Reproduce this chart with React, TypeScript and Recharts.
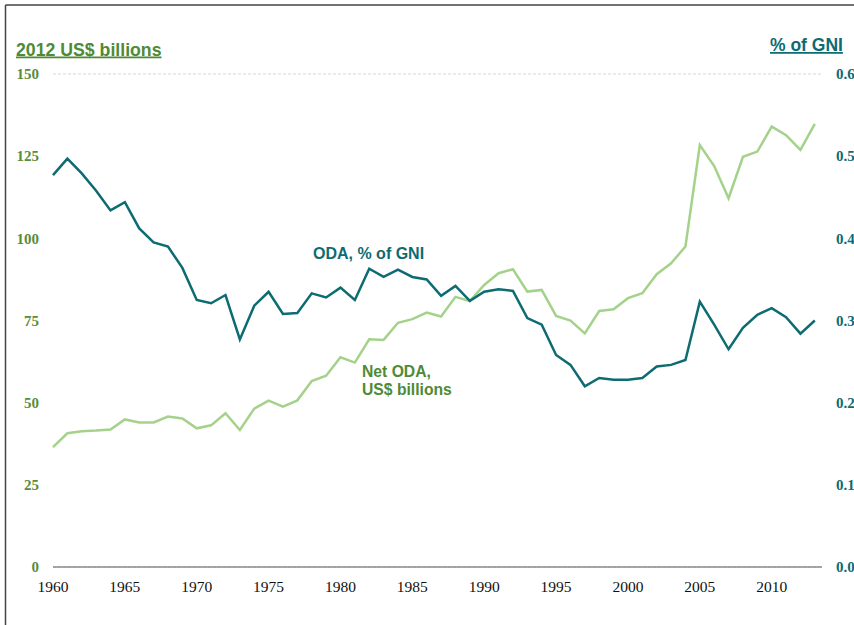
import React from "react";
import { LineChart, Line, XAxis, YAxis, CartesianGrid } from "recharts";

const years: number[] = [
  1960, 1961, 1962, 1963, 1964, 1965, 1966, 1967, 1968, 1969,
  1970, 1971, 1972, 1973, 1974, 1975, 1976, 1977, 1978, 1979,
  1980, 1981, 1982, 1983, 1984, 1985, 1986, 1987, 1988, 1989,
  1990, 1991, 1992, 1993, 1994, 1995, 1996, 1997, 1998, 1999,
  2000, 2001, 2002, 2003, 2004, 2005, 2006, 2007, 2008, 2009,
  2010, 2011, 2012, 2013,
];

const netOdaBillions: number[] = [
  36.5, 40.7, 41.3, 41.5, 41.8, 44.9, 44.0, 44.0, 45.8, 45.2,
  42.2, 43.1, 46.8, 41.7, 48.2, 50.6, 48.8, 50.7, 56.6, 58.2,
  63.8, 62.2, 69.3, 69.1, 74.3, 75.4, 77.4, 76.2, 82.2, 80.9,
  85.8, 89.4, 90.6, 83.8, 84.3, 76.4, 75.0, 71.1, 77.9, 78.4,
  81.8, 83.3, 89.1, 92.4, 97.5, 128.4, 122.0, 112.2, 124.8, 126.4,
  134.0, 131.4, 126.9, 134.8,
];

const odaPctGni: number[] = [
  0.477, 0.497, 0.479, 0.458, 0.434, 0.444, 0.412, 0.395, 0.39, 0.364,
  0.325, 0.321, 0.331, 0.277, 0.318, 0.335, 0.308, 0.309, 0.333, 0.328,
  0.34, 0.325, 0.363, 0.353, 0.362, 0.353, 0.35, 0.33, 0.342, 0.324,
  0.335, 0.338, 0.336, 0.303, 0.295, 0.258, 0.246, 0.22, 0.23, 0.228,
  0.228, 0.23, 0.244, 0.246, 0.252, 0.323, 0.295, 0.265, 0.291, 0.307,
  0.315, 0.304, 0.284, 0.3,
];

const xTicks: number[] = [1960, 1965, 1970, 1975, 1980, 1985, 1990, 1995, 2000, 2005, 2010];
const leftTicks: number[] = [0, 25, 50, 75, 100, 125, 150];
const rightTicks: number[] = [0, 0.1, 0.2, 0.3, 0.4, 0.5, 0.6];

const leftTitle = "2012 US$ billions";
const rightTitle = "% of GNI";
const odaLabel = "ODA, % of GNI";
const netLabel1 = "Net ODA,";
const netLabel2 = "US$ billions";

const TEAL = "#0d6b72";
const LIGHT_GREEN = "#a5d28b";
const DARK_GREEN = "#4f8a35";
const SANS = "'Liberation Sans', Arial, sans-serif";
const SERIF = "'Liberation Serif', 'Times New Roman', serif";

const data = years.map((y, i) => ({
  year: y,
  net: netOdaBillions[i],
  pct: odaPctGni[i],
}));

export default function App() {
  return (
    <div style={{ position: "absolute", left: 0, top: 0, width: 854, height: 625, background: "#fff" }}>
      <LineChart
        width={854}
        height={625}
        data={data}
        margin={{ top: 74, right: 0, bottom: 0, left: 0 }}
      >
        <CartesianGrid
          horizontal={true}
          vertical={false}
          stroke="#d6d6d6"
          strokeDasharray="3 2"
        />
        <XAxis
          dataKey="year"
          type="number"
          domain={[1960, 2013.5]}
          ticks={xTicks}
          height={58}
          tickSize={0}
          tickMargin={14}
          tickLine={false}
          axisLine={{ stroke: "#8a8a8a", strokeWidth: 1.5 }}
          tick={{ fill: "#111", fontFamily: SERIF, fontSize: 15.5 }}
          interval={0}
        />
        <YAxis
          yAxisId="left"
          orientation="left"
          domain={[0, 150]}
          ticks={leftTicks}
          width={53}
          tickSize={0}
          tickMargin={14}
          tickLine={false}
          axisLine={false}
          tick={{ fill: "#5b8c3a", fontFamily: SERIF, fontSize: 15, fontWeight: "bold" }}
          interval={0}
        />
        <YAxis
          yAxisId="right"
          orientation="right"
          domain={[0, 0.6]}
          ticks={rightTicks}
          width={32}
          tickSize={0}
          tickMargin={14}
          tickLine={false}
          axisLine={false}
          tickFormatter={(v: number) => v.toFixed(1)}
          tick={{ fill: TEAL, fontFamily: SERIF, fontSize: 15, fontWeight: "bold" }}
          interval={0}
        />
        <Line
          yAxisId="left"
          dataKey="net"
          type="linear"
          stroke={LIGHT_GREEN}
          strokeWidth={2.5}
          dot={false}
          isAnimationActive={false}
        />
        <Line
          yAxisId="right"
          dataKey="pct"
          type="linear"
          stroke={TEAL}
          strokeWidth={2.5}
          dot={false}
          isAnimationActive={false}
        />
      </LineChart>
      <svg
        width={854}
        height={625}
        style={{ position: "absolute", left: 0, top: 0, pointerEvents: "none" }}
      >
        <line x1={5.5} y1={5} x2={854} y2={5} stroke="#444" strokeWidth={1.5} />
        <line x1={5.5} y1={5} x2={5.5} y2={625} stroke="#444" strokeWidth={1.5} />
        <text
          x={16}
          y={55.5}
          fill={DARK_GREEN}
          fontFamily={SANS}
          fontSize={17.7}
          fontWeight="bold"
          style={{ textDecoration: "underline" }}
        >
          {leftTitle}
        </text>
        <text
          x={770}
          y={51}
          fill={TEAL}
          fontFamily={SANS}
          fontSize={17.5}
          fontWeight="bold"
          style={{ textDecoration: "underline" }}
        >
          {rightTitle}
        </text>
        <text x={313} y={259} fill={TEAL} fontFamily={SANS} fontSize={16} fontWeight="bold">
          {odaLabel}
        </text>
        <text x={362} y={377} fill={DARK_GREEN} fontFamily={SANS} fontSize={15.7} fontWeight="bold">
          {netLabel1}
        </text>
        <text x={362} y={395} fill={DARK_GREEN} fontFamily={SANS} fontSize={15.7} fontWeight="bold">
          {netLabel2}
        </text>
      </svg>
    </div>
  );
}
